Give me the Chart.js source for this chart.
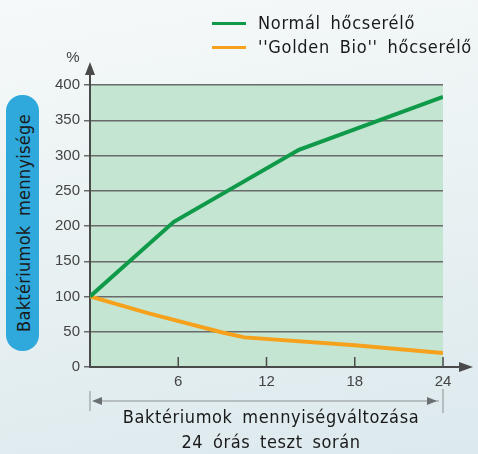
<!DOCTYPE html>
<html lang="hu">
<head>
  <meta charset="UTF-8">
  <title>Baktériumok mennyiségváltozása</title>
  <script src="https://cdn.jsdelivr.net/npm/chart.js"></script>
  <style>
    html, body {
      margin: 0;
      padding: 0;
    }
    body {
      width: 478px;
      height: 454px;
      position: relative;
      overflow: hidden;
      background: linear-gradient(170deg, #f6f9f9 0%, #eaf2f3 45%, #dce9ee 100%);
      font-family: 'DejaVu Sans Condensed', 'DejaVu Sans', sans-serif;
      color: #1a1a1a;
    }
    canvas {
      position: absolute;
      left: 0;
      top: 0;
    }
    .legend {
      position: absolute;
      left: 212px;
      top: 11px;
      font-size: 18px;
      letter-spacing: 0.7px;
      word-spacing: 4px;
    }
    .legend div {
      height: 24px;
      line-height: 24px;
      white-space: nowrap;
    }
    .legend span {
      display: inline-block;
      width: 34px;
      height: 3px;
      vertical-align: middle;
      margin-right: 12px;
      position: relative;
      top: -1px;
    }
    .pill {
      position: absolute;
      left: 6px;
      top: 95px;
      width: 33px;
      height: 256px;
      border-radius: 16px;
      background: #2fa9dc;
    }
    .pill div {
      position: absolute;
      left: 50%;
      top: 50%;
      transform: translate(-50%, -50%) rotate(-90deg);
      white-space: nowrap;
      font-size: 18px;
      letter-spacing: 0.3px;
      word-spacing: 4px;
    }
    .caption {
      position: absolute;
      left: 71px;
      width: 400px;
      top: 404px;
      text-align: center;
      font-size: 18px;
      line-height: 25px;
      letter-spacing: 0.6px;
      word-spacing: 4px;
    }
  </style>
</head>
<body>

  <canvas id="bacteriaChart" width="478" height="454"></canvas>

  <div class="legend">
    <div><span style="background:#0f9a4a"></span>Normál hőcserélő</div>
    <div><span style="background:#f6a11c"></span>''Golden Bio'' hőcserélő</div>
  </div>

  <div class="pill"><div>Baktériumok mennyisége</div></div>

  <div class="caption">Baktériumok mennyiségváltozása<br>24 órás teszt során</div>

  <script>
    // adatok (óra, %)
    const normalHours = [0, 5.7, 14.2, 24];
    const normalValues = [100, 206, 308, 383];
    const goldenHours = [0, 4, 9, 10.5, 18, 24];
    const goldenValues = [100, 76, 49, 42, 31, 20];
    const xTicks = [6, 12, 18, 24];
    const yTicks = [0, 50, 100, 150, 200, 250, 300, 350, 400];

    const toPoints = (xs, ys) => xs.map((x, i) => ({ x: x, y: ys[i] }));

    // zöld háttér, nyilak, zárójel
    const decorPlugin = {
      id: 'decor',
      beforeDraw(chart) {
        const { ctx, chartArea: a } = chart;
        ctx.save();
        ctx.fillStyle = '#c3e5d1';
        ctx.fillRect(a.left, a.top, a.right - a.left, a.bottom - a.top);
        ctx.restore();
      },
      afterDraw(chart) {
        const { ctx, chartArea: a, scales } = chart;
        ctx.save();
        ctx.strokeStyle = '#4a4a4a';
        ctx.fillStyle = '#4a4a4a';
        ctx.lineWidth = 2;

        // y tengely nyíl
        ctx.beginPath();
        ctx.moveTo(a.left, a.top);
        ctx.lineTo(a.left, a.top - 12);
        ctx.stroke();
        ctx.beginPath();
        ctx.moveTo(a.left, a.top - 23);
        ctx.lineTo(a.left - 5, a.top - 10);
        ctx.lineTo(a.left + 5, a.top - 10);
        ctx.closePath();
        ctx.fill();

        // x tengely nyíl
        ctx.beginPath();
        ctx.moveTo(a.right, a.bottom);
        ctx.lineTo(a.right + 18, a.bottom);
        ctx.stroke();
        ctx.beginPath();
        ctx.moveTo(a.right + 30, a.bottom);
        ctx.lineTo(a.right + 16, a.bottom - 5);
        ctx.lineTo(a.right + 16, a.bottom + 5);
        ctx.closePath();
        ctx.fill();

        // x osztásjelek
        ctx.lineWidth = 1.5;
        xTicks.forEach(t => {
          const px = scales.x.getPixelForValue(t);
          ctx.beginPath();
          ctx.moveTo(px, a.bottom - 10);
          ctx.lineTo(px, a.bottom);
          ctx.stroke();
        });

        // % felirat
        ctx.font = '15px "Liberation Sans", Arial, sans-serif';
        ctx.fillStyle = '#444';
        ctx.textAlign = 'center';
        ctx.textBaseline = 'middle';
        ctx.fillText('%', a.left - 17, a.top - 27);

        // zárójel a 24 órás időtartamhoz
        const bx0 = scales.x.getPixelForValue(0);
        const bx1 = scales.x.getPixelForValue(24);
        const by = a.bottom + 34;
        ctx.strokeStyle = '#8a8f92';
        ctx.fillStyle = '#6a6f72';
        ctx.lineWidth = 1;
        ctx.beginPath();
        ctx.moveTo(bx0, by - 10);
        ctx.lineTo(bx0, by + 10);
        ctx.moveTo(bx1, by - 12);
        ctx.lineTo(bx1, by + 12);
        ctx.moveTo(bx0 + 4, by);
        ctx.lineTo(bx1 - 4, by);
        ctx.stroke();
        ctx.beginPath();
        ctx.moveTo(bx0 + 2, by);
        ctx.lineTo(bx0 + 12, by - 4);
        ctx.lineTo(bx0 + 12, by + 4);
        ctx.closePath();
        ctx.fill();
        ctx.beginPath();
        ctx.moveTo(bx1 - 6, by);
        ctx.lineTo(bx1 - 16, by - 4);
        ctx.lineTo(bx1 - 16, by + 4);
        ctx.closePath();
        ctx.fill();
        ctx.restore();
      }
    };

    const ctx = document.getElementById('bacteriaChart').getContext('2d');
    const bacteriaChart = new Chart(ctx, {
      type: 'line',
      data: {
        datasets: [{
          label: 'Normál hőcserélő',
          data: toPoints(normalHours, normalValues),
          borderColor: '#0f9a4a',
          borderWidth: 4,
          pointRadius: 0,
          tension: 0
        }, {
          label: "''Golden Bio'' hőcserélő",
          data: toPoints(goldenHours, goldenValues),
          borderColor: '#f6a11c',
          borderWidth: 4,
          pointRadius: 0,
          tension: 0
        }]
      },
      options: {
        responsive: false,
        animation: false,
        layout: {
          padding: { left: 0, top: 85, right: 35, bottom: 0 }
        },
        plugins: {
          legend: { display: false },
          tooltip: { enabled: false }
        },
        scales: {
          x: {
            type: 'linear',
            min: 0,
            max: 24,
            afterFit: s => { s.height = 87; },
            afterBuildTicks: s => { s.ticks = xTicks.map(v => ({ value: v })); },
            grid: { display: false, drawTicks: false },
            border: { display: true, color: '#4a4a4a', width: 2 },
            ticks: {
              padding: 6,
              color: '#444',
              font: { family: '"Liberation Sans", Arial, sans-serif', size: 15 }
            }
          },
          y: {
            min: 0,
            max: 400,
            afterFit: s => { s.width = 90; },
            afterBuildTicks: s => { s.ticks = yTicks.map(v => ({ value: v })); },
            grid: {
              color: ctx => ctx.tick && ctx.tick.value === 0 ? 'rgba(0,0,0,0)' : '#6a6a6a',
              lineWidth: 1.5,
              tickLength: 6,
              tickColor: '#6a6a6a'
            },
            border: { display: true, color: '#4a4a4a', width: 2 },
            ticks: {
              padding: 4,
              color: '#444',
              font: { family: '"Liberation Sans", Arial, sans-serif', size: 15 }
            }
          }
        }
      },
      plugins: [decorPlugin]
    });
  </script>

</body>
</html>
